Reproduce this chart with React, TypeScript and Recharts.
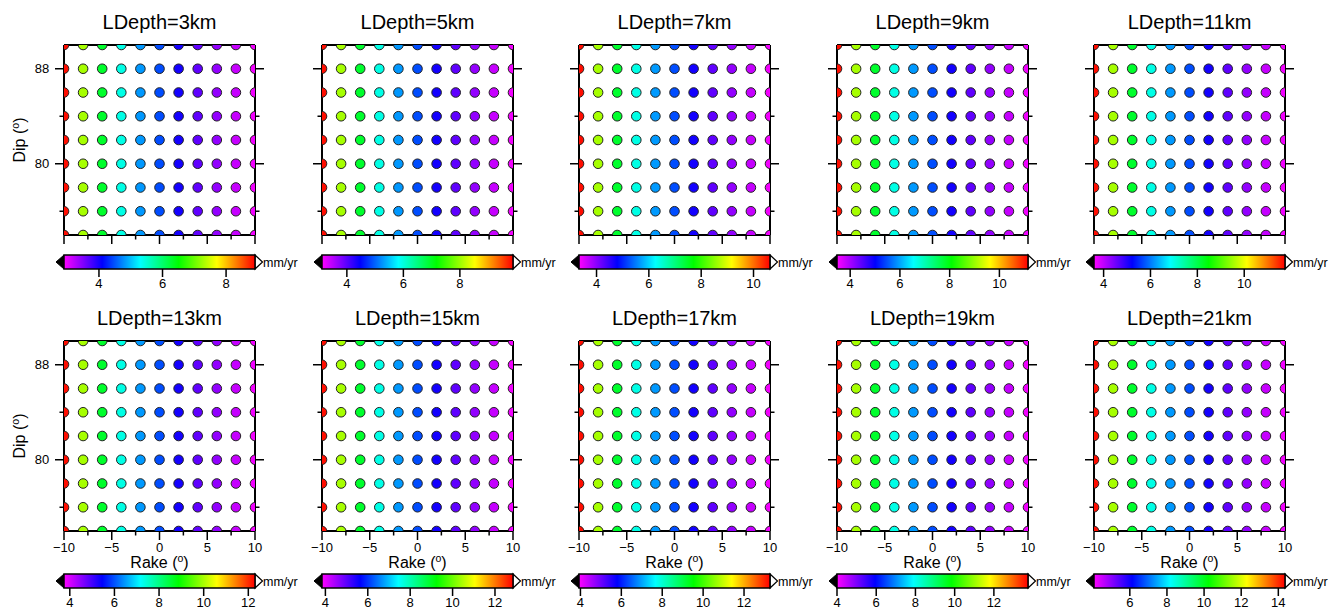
import React from 'react';
import { ScatterChart, Scatter, XAxis, YAxis, ComposedChart, ReferenceArea } from 'recharts';

// locking depths, one panel each
const DEPTHS = [3, 5, 7, 9, 11, 13, 15, 17, 19, 21];
const RAKES = [-10, -8, -6, -4, -2, 0, 2, 4, 6, 8, 10];
const DIPS = [90, 88, 86, 84, 82, 80, 78, 76, 74];

// slip rate (mm/yr) per rake column
const RATE_3KM = [8.85, 7.29, 6.3, 5.42, 4.82, 4.46, 4.01, 3.65, 3.41, 3.17, 2.96];
const RATE_5KM = [9.81, 8.05, 6.94, 5.96, 5.28, 4.88, 4.37, 3.97, 3.69, 3.42, 3.19];
const RATE_7KM = [10.56, 8.66, 7.45, 6.4, 5.67, 5.23, 4.68, 4.24, 3.95, 3.66, 3.4];
const RATE_9KM = [11.07, 9.08, 7.81, 6.7, 5.93, 5.47, 4.89, 4.43, 4.12, 3.82, 3.55];
const RATE_11KM = [11.66, 9.54, 8.19, 7.01, 6.2, 5.71, 5.1, 4.61, 4.28, 3.96, 3.67];
const RATE_13KM = [12.21, 9.99, 8.58, 7.34, 6.48, 5.97, 5.32, 4.81, 4.47, 4.13, 3.83];
const RATE_15KM = [12.76, 10.42, 8.93, 7.62, 6.72, 6.18, 5.51, 4.97, 4.61, 4.25, 3.93];
const RATE_17KM = [13.18, 10.75, 9.21, 7.85, 6.92, 6.36, 5.66, 5.1, 4.72, 4.35, 4.02];
const RATE_19KM = [13.64, 11.11, 9.5, 8.09, 7.12, 6.53, 5.8, 5.22, 4.83, 4.44, 4.1];
const RATE_21KM = [14.26, 11.58, 9.88, 8.39, 7.36, 6.75, 5.97, 5.36, 4.94, 4.53, 4.17];
const PANEL_RATES = [RATE_3KM, RATE_5KM, RATE_7KM, RATE_9KM, RATE_11KM, RATE_13KM, RATE_15KM, RATE_17KM, RATE_19KM, RATE_21KM];

// colour scale range of each panel
const CB_MIN = [2.9, 3.12, 3.33, 3.47, 3.59, 3.74, 3.84, 3.93, 4.0, 4.07];
const CB_MAX = [8.91, 9.88, 10.63, 11.15, 11.74, 12.3, 12.85, 13.27, 13.74, 14.36];
const CB_TICKS = [
  [4, 6, 8], [4, 6, 8], [4, 6, 8, 10], [4, 6, 8, 10], [4, 6, 8, 10],
  [4, 6, 8, 10, 12], [4, 6, 8, 10, 12], [4, 6, 8, 10, 12], [4, 6, 8, 10, 12], [6, 8, 10, 12, 14],
];

const X_TICKS = [-10, -7.5, -5, -2.5, 0, 2.5, 5, 7.5, 10];
const Y_TICKS = [76, 80, 84, 88];

const FONT = '"Liberation Sans", Arial, Helvetica, sans-serif';
const RAINBOW = ['#ff00ff', '#0000ff', '#00ffff', '#00ff00', '#ffff00', '#ff0000'];

const PLOT_L = 64;
const PLOT_W = 191;
const PLOT_T = 45;
const PLOT_H = 190;
const COL_STEP = 257.5;
const ROW_STEP = 296;
const CB_TOP = [255, 574];

const hexToRgb = (h: string) => [1, 3, 5].map((i) => parseInt(h.slice(i, i + 2), 16));

function rateColor(v: number, lo: number, hi: number) {
  const t = Math.max(0, Math.min(1, (v - lo) / (hi - lo)));
  const s = t * 5;
  const i = Math.min(4, Math.floor(s));
  const f = s - i;
  const a = hexToRgb(RAINBOW[i]);
  const b = hexToRgb(RAINBOW[i + 1]);
  const c = a.map((ch, k) => Math.round(ch + (b[k] - ch) * f));
  return `rgb(${c[0]},${c[1]},${c[2]})`;
}

const fmt = (v: number) => (v < 0 ? '\u2212' + Math.abs(v) : String(v));
const AXIS_LINE = { stroke: '#000', strokeWidth: 2 };

// GMT style frame ticks, drawn by hand so major/minor get different lengths
const tickFor = (side: 'bottom' | 'top' | 'left' | 'right', showLabels: boolean) => (p: any) => {
  const v = p.payload.value;
  const major = side === 'left' || side === 'right' ? v % 8 === 0 : v % 5 === 0;
  const len = major ? 9 : 4.5;
  let line;
  let label = null;
  if (side === 'bottom') {
    line = <line x1={p.x} y1={p.y} x2={p.x} y2={p.y + len} />;
    if (showLabels && major)
      label = <text x={p.x} y={p.y + 20.5} textAnchor="middle">{fmt(v)}</text>;
  } else if (side === 'top') {
    line = <line x1={p.x} y1={p.y} x2={p.x} y2={p.y - len} />;
  } else if (side === 'left') {
    line = <line x1={p.x} y1={p.y} x2={p.x - len} y2={p.y} />;
    if (showLabels && major)
      label = <text x={p.x - 14.7} y={p.y + 4.6} textAnchor="end">{fmt(v)}</text>;
  } else {
    line = <line x1={p.x} y1={p.y} x2={p.x + len} y2={p.y} />;
  }
  return (
    <g stroke="#000" strokeWidth={1.5}>
      {line}
      {label && (
        <g stroke="none" fill="#000" fontSize={13} fontFamily={FONT}>
          {label}
        </g>
      )}
    </g>
  );
};

const Degree = () => (
  <>
    <tspan fontSize={10.5} dy={-6}>o</tspan>
    <tspan dy={6}>)</tspan>
  </>
);

const Panel = ({ idx }: { idx: number }) => {
  const row = Math.floor(idx / 5);
  const col = idx % 5;
  const lo = CB_MIN[idx];
  const hi = CB_MAX[idx];
  const rates = PANEL_RATES[idx];
  const data = DIPS.flatMap((dip) => RAKES.map((rake, k) => ({ rake, dip, rate: rates[k] })));
  const isLeft = col === 0;
  const isBottom = row === 1;
  const cx = PLOT_L + PLOT_W / 2;

  return (
    <div style={{ position: 'absolute', left: Math.round(col * COL_STEP), top: row * ROW_STEP }}>
      <ScatterChart width={267} height={275} margin={{ top: 35, right: 0, bottom: 0, left: 0 }}>
        <XAxis
          xAxisId="b"
          type="number"
          dataKey="rake"
          domain={[-10, 10]}
          allowDataOverflow
          ticks={X_TICKS}
          interval={0}
          height={40}
          tickSize={0}
          tickMargin={0}
          tickLine={false}
          axisLine={AXIS_LINE}
          tick={tickFor('bottom', isBottom)}
          label={
            isBottom
              ? () => (
                  <text x={cx} y={PLOT_T + PLOT_H + 36.7} textAnchor="middle" fontSize={16} fontFamily={FONT} fill="#000">
                    Rake (<Degree />
                  </text>
                )
              : undefined
          }
        />
        <XAxis
          xAxisId="t"
          orientation="top"
          type="number"
          domain={[-10, 10]}
          allowDataOverflow
          ticks={X_TICKS}
          interval={0}
          height={10}
          tickSize={0}
          tickMargin={0}
          tickLine={false}
          axisLine={AXIS_LINE}
          tick={tickFor('top', false)}
          label={() => (
            <text x={cx} y={29.3} textAnchor="middle" fontSize={20} fontFamily={FONT} fill="#000">
              {`LDepth=${DEPTHS[idx]}km`}
            </text>
          )}
        />
        <YAxis
          yAxisId="l"
          type="number"
          dataKey="dip"
          domain={[74, 90]}
          allowDataOverflow
          ticks={Y_TICKS}
          interval={0}
          width={64}
          tickSize={0}
          tickMargin={0}
          tickLine={false}
          axisLine={AXIS_LINE}
          tick={tickFor('left', isLeft)}
          label={
            isLeft
              ? () => (
                  <text
                    x={25}
                    y={PLOT_T + PLOT_H / 2}
                    transform={`rotate(-90 25 ${PLOT_T + PLOT_H / 2})`}
                    textAnchor="middle"
                    fontSize={16}
                    fontFamily={FONT}
                    fill="#000"
                  >
                    Dip (<Degree />
                  </text>
                )
              : undefined
          }
        />
        <YAxis
          yAxisId="r"
          orientation="right"
          type="number"
          domain={[74, 90]}
          allowDataOverflow
          ticks={Y_TICKS}
          interval={0}
          width={12}
          tickSize={0}
          tickMargin={0}
          tickLine={false}
          axisLine={AXIS_LINE}
          tick={tickFor('right', false)}
        />
        <Scatter
          data={data}
          xAxisId="b"
          yAxisId="l"
          isAnimationActive={false}
          shape={(p: any) => (
            <circle
              cx={p.cx}
              cy={p.cy}
              r={4.8}
              fill={rateColor(p.payload.rate, lo, hi)}
              stroke="#222"
              strokeWidth={1}
            />
          )}
        />
      </ScatterChart>
    </div>
  );
};

const ColorBar = ({ idx }: { idx: number }) => {
  const row = Math.floor(idx / 5);
  const col = idx % 5;
  const lo = CB_MIN[idx];
  const hi = CB_MAX[idx];
  const gid = `cbar-${idx}`;

  return (
    <div style={{ position: 'absolute', left: Math.round(col * COL_STEP), top: CB_TOP[row] - 6 }}>
      <ComposedChart width={320} height={50} margin={{ top: 6, right: 65, bottom: 0, left: 64 }} data={[{ v: lo }, { v: hi }]}>
        <XAxis
          type="number"
          dataKey="v"
          domain={[lo, hi]}
          allowDataOverflow
          ticks={CB_TICKS[idx]}
          interval={0}
          height={30}
          tickSize={0}
          tickMargin={0}
          tickLine={false}
          axisLine={false}
          tick={(p: any) => (
            <g>
              <line x1={p.x} y1={p.y} x2={p.x} y2={p.y + 8} stroke="#000" strokeWidth={1.5} />
              <text x={p.x} y={p.y + 19} textAnchor="middle" fontSize={13} fontFamily={FONT} fill="#000">
                {p.payload.value}
              </text>
            </g>
          )}
        />
        <YAxis type="number" domain={[0, 1]} hide allowDataOverflow />
        <ReferenceArea
          x1={lo}
          x2={hi}
          y1={0}
          y2={1}
          ifOverflow="visible"
          shape={(p: any) => {
            const { x, y, width: w, height: h } = p;
            return (
              <g>
                <defs>
                  <linearGradient id={gid} x1="0" y1="0" x2="1" y2="0">
                    {RAINBOW.map((c, i) => (
                      <stop key={i} offset={i / 5} stopColor={c} />
                    ))}
                  </linearGradient>
                </defs>
                <polygon points={`${x},${y} ${x - 8},${y + h / 2} ${x},${y + h}`} fill="#000" stroke="#000" strokeWidth={1} />
                <polygon
                  points={`${x + w},${y} ${x + w + 7.5},${y + h / 2} ${x + w},${y + h}`}
                  fill="#fff"
                  stroke="#000"
                  strokeWidth={1.2}
                />
                <rect x={x} y={y} width={w} height={h} fill={`url(#${gid})`} stroke="#000" strokeWidth={1.5} />
                <text x={x + w + 8} y={y + h / 2 + 4.5} fontSize={12.5} fontFamily={FONT} fill="#000">
                  mm/yr
                </text>
              </g>
            );
          }}
        />
      </ComposedChart>
    </div>
  );
};

export default function App() {
  return (
    <div
      style={{
        position: 'absolute',
        left: 0,
        top: 0,
        width: 1331,
        height: 612,
        overflow: 'hidden',
        background: '#fff',
      }}
    >
      {DEPTHS.map((d, i) => (
        <Panel key={`p${d}`} idx={i} />
      ))}
      {DEPTHS.map((d, i) => (
        <ColorBar key={`c${d}`} idx={i} />
      ))}
    </div>
  );
}
